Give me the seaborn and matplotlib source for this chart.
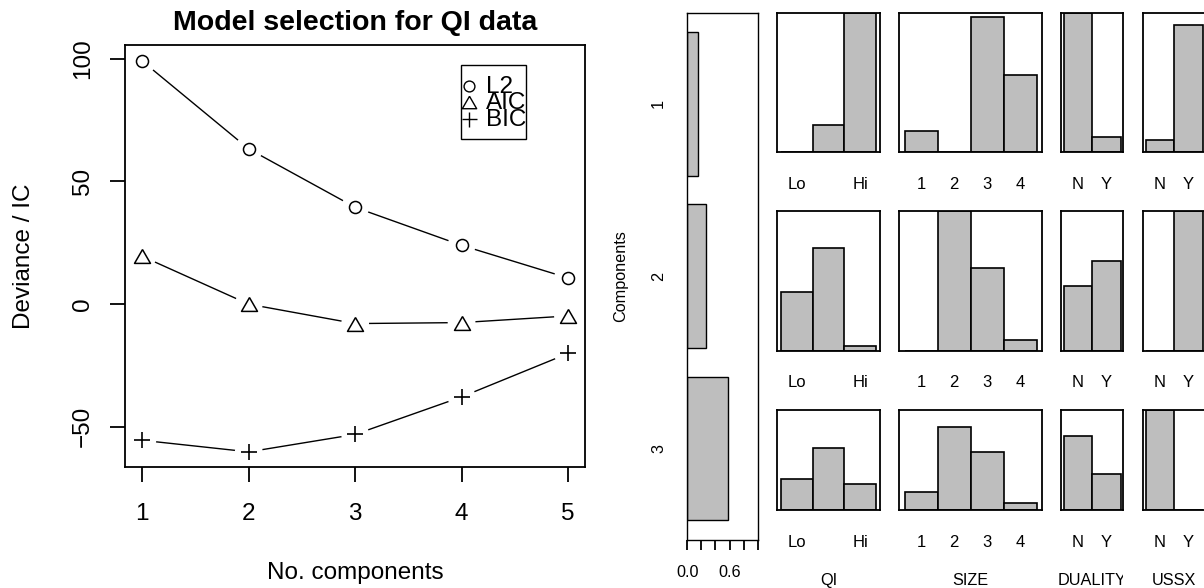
import numpy as np
import pandas as pd
import matplotlib.pyplot as plt
import seaborn as sns
from matplotlib.patches import Rectangle
from matplotlib.lines import Line2D

# model selection: deviance and information criteria per number of components
n_comp = [1, 2, 3, 4, 5]
l2 = [99.0, 63.2, 39.4, 23.9, 10.6]
aic = [19.4, -0.1, -8.0, -7.6, -4.9]
bic = [-55.6, -60.3, -53.2, -37.9, -20.2]

# 3-component solution: class sizes and item response probabilities
components = ["1", "2", "3"]
class_sizes = [0.155, 0.27, 0.575]

qi_levels = ["Lo", "", "Hi"]
qi_probs = [[0.0, 0.165, 0.835],
            [0.351, 0.615, 0.032],
            [0.259, 0.522, 0.222]]
size_levels = ["1", "2", "3", "4"]
size_probs = [[0.093, 0.0, 0.578, 0.330],
              [0.0, 0.598, 0.353, 0.048],
              [0.112, 0.499, 0.347, 0.043]]
duality_levels = ["N", "Y"]
duality_probs = [[0.90, 0.10],
                 [0.42, 0.58],
                 [0.67, 0.33]]
ussx_levels = ["N", "Y"]
ussx_probs = [[0.09, 0.91],
              [0.0, 1.0],
              [1.0, 0.0]]

sns.set_style("ticks")
plt.rcParams['font.family'] = ['Liberation Sans', 'DejaVu Sans']
plt.rcParams['axes.linewidth'] = 1.3
plt.rcParams['axes.edgecolor'] = 'black'
plt.rcParams['text.color'] = 'black'
plt.rcParams['axes.labelcolor'] = 'black'
plt.rcParams['xtick.color'] = 'black'
plt.rcParams['ytick.color'] = 'black'

W, H = 1204, 588
GREY = '#bebebe'
BIG = 17.5
SMALL = 11.7


def fx(x):
    return x / W


def fy(y):
    return 1 - y / H


def box(x0, x1, y0, y1):
    return [x0 / W, 1 - y1 / H, (x1 - x0) / W, (y1 - y0) / H]


fig = plt.figure(figsize=(W / 100, H / 100), dpi=100)

# ---- left: model selection ----
ax = fig.add_axes(box(125.3, 585, 44.7, 467.3))
tri = [(0, 1), (-1.155, -1), (1.155, -1), (0, 1)]
series = [("L2", l2, "o", 75), ("AIC", aic, tri, 132), ("BIC", bic, "+", 144)]

for name, vals, mk, sz in series:
    sns.lineplot(x=n_comp, y=vals, color='black', linewidth=1.0, ax=ax, zorder=2)
    # white discs leave the gap around the points (like R type="b")
    ax.scatter(n_comp, vals, s=400, color='white', edgecolors='none', zorder=2.1)
    if mk == "+":
        sns.scatterplot(x=n_comp, y=vals, marker=mk, s=sz, color='black',
                        linewidth=1.2, ax=ax, zorder=2.2)
    else:
        sns.scatterplot(x=n_comp, y=vals, marker=mk, s=sz, facecolor='white',
                        edgecolor='black', linewidth=1.1, ax=ax, zorder=2.2)

ax.set_xlim(0.84, 5.16)
ax.set_ylim(-66.6, 105.7)
ax.set_xticks(n_comp)
ax.set_yticks([-50, 0, 50, 100])
ax.tick_params(axis='both', length=11, width=1.3, labelsize=BIG)
ax.tick_params(axis='x', pad=15)
ax.tick_params(axis='y', pad=19.5, labelrotation=90)
for lab in ax.get_yticklabels():
    lab.set_ha('center')
    lab.set_va('center')
ax.set_xlabel('')
ax.set_ylabel('')

fig.text(fx(355), fy(30), "Model selection for QI data", ha='center',
         va='baseline', fontsize=20.5, fontweight='bold')
fig.text(fx(355), fy(579.3), "No. components", ha='center', va='baseline',
         fontsize=BIG)
fig.text(fx(24), fy(256), "Deviance / IC", ha='center', va='center',
         rotation=90, fontsize=BIG)

# legend box
fig.add_artist(Rectangle((fx(461.3), fy(139.3)), (526 - 461.3) / W,
                         (139.3 - 65) / H, transform=fig.transFigure,
                         fill=False, lw=1.0, ec='black'))
for i, (name, vals, mk, sz) in enumerate(series):
    ym = 85.5 + 16.6 * i
    fig.add_artist(Line2D([fx(469.3)], [fy(ym)], marker=mk, linestyle='none',
                          markersize=np.sqrt(sz) * 0.9, markerfacecolor='none',
                          markeredgecolor='black', markeredgewidth=1.0,
                          transform=fig.transFigure))
    fig.text(fx(485.7), fy(ym + 7.2), name, ha='left', va='baseline',
             fontsize=BIG)

# ---- right: class sizes ----
ax0 = fig.add_axes(box(687.3, 757.7, 12.7, 539.7))
sns.barplot(x=class_sizes, y=components, orient='h', color=GREY, saturation=1,
            edgecolor='black', linewidth=1.0, width=0.834, ax=ax0)
ax0.set_xlim(0, 1)
ax0.set_ylim(2.53, -0.53)
ax0.set_xticks([0, 0.2, 0.4, 0.6, 0.8, 1.0])
ax0.set_xticklabels(["0.0", "", "", "0.6", "", ""])
ax0.tick_params(axis='x', length=7.4, width=1.3, pad=10.5, labelsize=SMALL)
ax0.set_yticks([0, 1, 2])
ax0.set_yticklabels(components)
ax0.tick_params(axis='y', length=0, pad=20.6, labelsize=SMALL, labelrotation=90)
for lab in ax0.get_yticklabels():
    lab.set_ha('center')
    lab.set_va('center')
for sp in ax0.spines.values():
    sp.set_linewidth(1.0)
ax0.set_xlabel('')
ax0.set_ylabel('')
fig.text(fx(621), fy(276), "Components", ha='center', va='center',
         rotation=90, fontsize=SMALL)

# ---- right: response probabilities per component ----
variables = [("QI", qi_levels, qi_probs, 777.3, 880.0),
             ("SIZE", size_levels, size_probs, 899.3, 1042.2),
             ("DUALITY", duality_levels, duality_probs, 1061.3, 1123.3),
             ("USSX", ussx_levels, ussx_probs, 1143.3, 1205.3)]
rows = [(12.7, 152.3), (211.0, 351.0), (410.0, 510.3)]

for name, levels, probs, x0, x1 in variables:
    ymax = max(max(r) for r in probs)
    n = len(levels)
    for (y0, y1), p in zip(rows, probs):
        a = fig.add_axes(box(x0, x1, y0, y1))
        sns.barplot(x=levels, y=p, order=levels, color=GREY, saturation=1,
                    edgecolor='black', linewidth=1.2, width=1.0, ax=a)
        a.set_xlim(-0.5 - 0.04 * n, n - 0.5 + 0.04 * n)
        a.set_ylim(0, ymax)
        a.set_yticks([])
        a.tick_params(axis='x', length=0, pad=17.5, labelsize=12)
        a.set_xlabel('')
        a.set_ylabel('')
    t = fig.text(fx((x0 + x1) / 2), fy(585), name, ha='center',
                 va='baseline', fontsize=SMALL)
    t.set_clip_path(Rectangle((fx(x0 - 20), 0), (x1 - x0 + 20) / W, 1,
                              transform=fig.transFigure))

fig.savefig('out.png', dpi=100)
